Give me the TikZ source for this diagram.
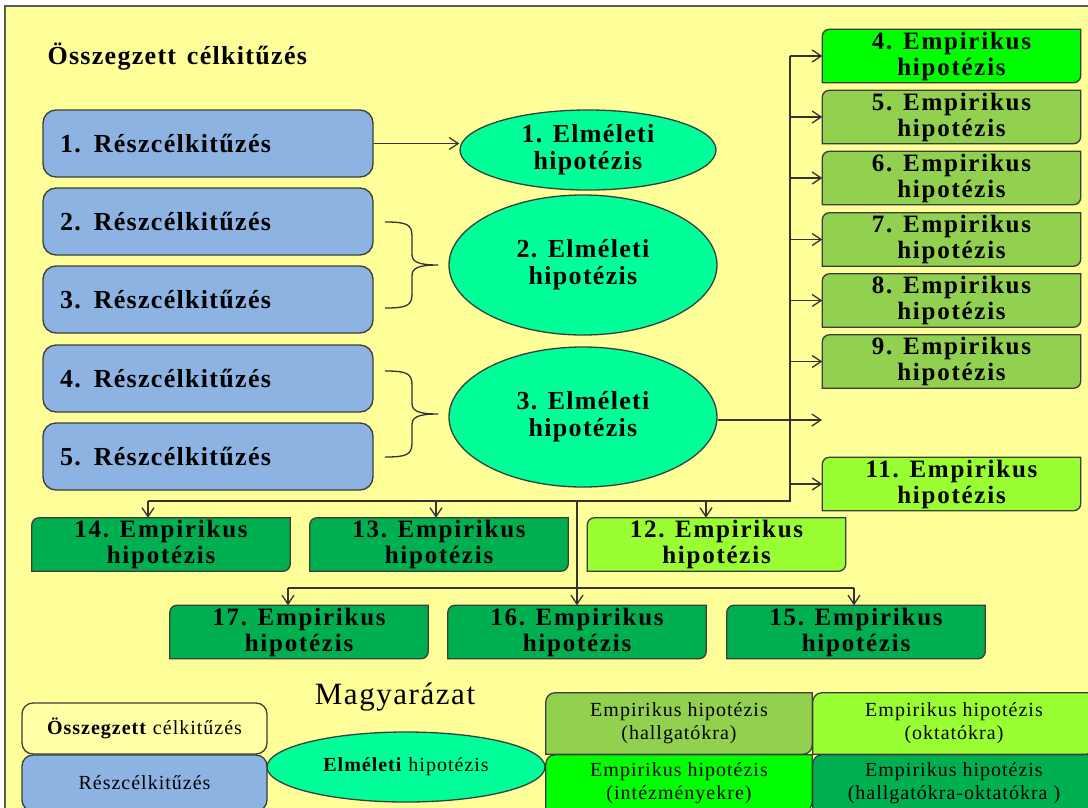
\documentclass[tikz,border=0pt]{standalone}
\usepackage{fontspec}
\setmainfont{Liberation Serif}
\usetikzlibrary{shapes.geometric,arrows.meta,calc}

\definecolor{paper}{HTML}{FFFF99}
\definecolor{framec}{HTML}{5A5A5A}
\definecolor{edgec}{HTML}{3C3C3C}
\definecolor{linec}{HTML}{333333}
\definecolor{bluec}{HTML}{8DB3E2}
\definecolor{ellc}{HTML}{00FF99}
\definecolor{creamc}{HTML}{FFFFA6}
\definecolor{brightg}{HTML}{00FF00}
\definecolor{oliveg}{HTML}{92D050}
\definecolor{limeg}{HTML}{99FF33}
\definecolor{darkg}{HTML}{00B050}

\pgfdeclarelayer{bg}
\pgfsetlayers{bg,main}

% box with rounded top-left and bottom-right corners, drawn behind node #2
\newcommand\diagfill[3][7pt]{%
  \begin{pgfonlayer}{bg}
  \filldraw[draw=edgec, line width=1.3pt, fill=#3]
    ($(#2.north west)+(0pt,-#1)$)
      .. controls ($(#2.north west)+(0pt,-0.45*#1)$) and ($(#2.north west)+(0.45*#1,0pt)$)
      .. ($(#2.north west)+(#1,0pt)$)
    -- (#2.north east)
    -- ($(#2.south east)+(0pt,#1)$)
      .. controls ($(#2.south east)+(0pt,0.45*#1)$) and ($(#2.south east)+(-0.45*#1,0pt)$)
      .. ($(#2.south east)+(-#1,0pt)$)
    -- (#2.south west) -- cycle;
  \end{pgfonlayer}}

\begin{document}
\begin{tikzpicture}[x=1pt,y=-1pt,
  bigbold/.style={font=\bfseries\fontsize{26}{27}\selectfont\addfontfeature{LetterSpace=5}},
  partbox/.style={draw=edgec, fill=bluec, line width=1.3pt, rounded corners=13pt,
    minimum height=67pt, text width=296pt, inner xsep=17pt, align=left, bigbold},
  theory/.style={ellipse, draw=edgec, fill=ellc, line width=1.3pt, inner sep=0pt,
    align=center, bigbold},
  emp/.style={minimum width=258pt, minimum height=53pt, inner sep=0pt, align=center,
    font=\bfseries\fontsize{25}{26}\selectfont\addfontfeature{LetterSpace=7}},
  legtext/.style={font=\fontsize{20}{23}\selectfont\addfontfeature{LetterSpace=5}},
  legbox/.style={minimum width=266pt, minimum height=61pt, inner sep=0pt, align=center, legtext},
  line/.style={draw=linec, line width=1.3pt},
  arr/.style={line, -{Straight Barb[length=9pt,width=12pt,line width=1.3pt]}}]

\useasboundingbox (0,0) rectangle (1088,807);
\clip (0,0) rectangle (1088,807);

% sheet
\begin{pgfonlayer}{bg}
\fill[white] (0,0) rectangle (1088,807);
\filldraw[fill=paper, draw=framec, line width=1.6pt] (5,6) rectangle (1110,830);
\end{pgfonlayer}

% heading
\node[anchor=west, bigbold] (title) at (44,57) {Összegzett\hspace{3pt} célkitűzés};

% sub-goals
\node[partbox] (b1) at (208,143.5) {1. Részcélkitűzés};
\node[partbox] (b2) at (208,221.5) {2. Részcélkitűzés};
\node[partbox] (b3) at (208,299.5) {3. Részcélkitűzés};
\node[partbox] (b4) at (208,378.5) {4. Részcélkitűzés};
\node[partbox] (b5) at (208,456.5) {5. Részcélkitűzés};

% theoretical hypotheses
\node[theory, minimum width=256pt, minimum height=80pt] (e1) at (588,150) {1. Elméleti\\hipotézis};
\node[theory, minimum width=268pt, minimum height=140pt] (e2) at (583,265) {2. Elméleti\\hipotézis};
\node[theory, minimum width=268pt, minimum height=140pt] (e3) at (583,417) {3. Elméleti\\hipotézis};

% empirical hypotheses, right column
\node[emp] (h4)  at (951.5,56)    {4. Empirikus\\hipotézis};
\node[emp] (h5)  at (951.5,117)   {5. Empirikus\\hipotézis};
\node[emp] (h6)  at (951.5,178)   {6. Empirikus\\hipotézis};
\node[emp] (h7)  at (951.5,239.5) {7. Empirikus\\hipotézis};
\node[emp] (h8)  at (951.5,300.5) {8. Empirikus\\hipotézis};
\node[emp] (h9)  at (951.5,361.5) {9. Empirikus\\hipotézis};
\node[emp] (h11) at (951.5,484)   {11. Empirikus\\hipotézis};
\diagfill{h4}{brightg}
\diagfill{h5}{oliveg}
\diagfill{h6}{oliveg}
\diagfill{h7}{oliveg}
\diagfill{h8}{oliveg}
\diagfill{h9}{oliveg}
\diagfill{h11}{limeg}

% empirical hypotheses, lower rows
\node[emp] (h14) at (161,544.5) {14. Empirikus\\hipotézis};
\node[emp] (h13) at (439,544.5) {13. Empirikus\\hipotézis};
\node[emp] (h12) at (716.5,544.5) {12. Empirikus\\hipotézis};
\node[emp] (h17) at (299,632) {17. Empirikus\\hipotézis};
\node[emp] (h16) at (577,632) {16. Empirikus\\hipotézis};
\node[emp] (h15) at (856,632) {15. Empirikus\\hipotézis};
\diagfill{h14}{darkg}
\diagfill{h13}{darkg}
\diagfill{h12}{limeg}
\diagfill{h17}{darkg}
\diagfill{h16}{darkg}
\diagfill{h15}{darkg}

% goal 1 -> hypothesis 1
\draw[arr] (b1.east) -- (b1.east -| e1.west);

% braces joining goals 2-3 and 4-5
\draw[line] (385,222) .. controls (406,222) and (412,224) .. (412,236)
  -- (412,254) .. controls (412,261) and (416,265) .. (438,265)
  .. controls (416,265) and (412,269) .. (412,276)
  -- (412,294) .. controls (412,306) and (406,308) .. (385,308);
\draw[line] (385,371) .. controls (406,371) and (412,373) .. (412,385)
  -- (412,403) .. controls (412,410) and (416,414) .. (438,414)
  .. controls (416,414) and (412,418) .. (412,425)
  -- (412,443) .. controls (412,455) and (406,457) .. (385,457);

% distribution lines
\coordinate (j1) at (790,501);
\coordinate (n10) at (822,420);
\coordinate (a14) at (148,501);
\coordinate (a13) at (436,501);
\coordinate (a12) at (706,501);
\coordinate (j2) at (577,501);
\coordinate (j3) at (577,588);
\coordinate (a17) at (288,588);
\coordinate (a15) at (854,588);

\draw[line] (h4.west -| j1) -- (j1) -- (a14);
\foreach \n in {h4,h5,h6,h7,h8,h9,h11}
  \draw[arr] (\n.west -| j1) -- (\n.west);
\draw[arr] (e3.east |- n10) -- (n10);
\draw[arr] (a14) -- (a14 |- h14.north);
\draw[arr] (a13) -- (a13 |- h13.north);
\draw[arr] (a12) -- (a12 |- h12.north);
\draw[line] (j2) -- (j3);
\draw[line] (a17) -- (a15);
\draw[arr] (a17) -- (a17 |- h17.north);
\draw[arr] (j3) -- (h16.north);
\draw[arr] (a15) -- (a15 |- h15.north);

% legend
\node[font=\fontsize{31}{33}\selectfont\addfontfeature{LetterSpace=5}] (key) at (395,697) {Magyarázat};
\node[draw=edgec, fill=creamc, line width=1.3pt, rounded corners=11pt,
  minimum width=245pt, minimum height=51pt, inner sep=0pt, legtext] (k1) at (144.5,728.5)
  {\textbf{Összegzett} célkitűzés};
\node[draw=edgec, fill=bluec, line width=1.3pt, rounded corners=11pt,
  minimum width=245pt, minimum height=56pt, inner sep=0pt, legtext] (k2) at (144.5,783)
  {Részcélkitűzés};
\node[theory, minimum width=278pt, minimum height=70pt, legtext] (k3) at (406,767)
  {\textbf{Elméleti} hipotézis};
\node[legbox] (k4) at (679,723.5) {Empirikus hipotézis\\(hallgatókra)};
\node[legbox, minimum width=282pt] (k5) at (954,723.5) {Empirikus hipotézis\\(oktatókra)};
\node[legbox, minimum height=56pt] (k6) at (679,783) {Empirikus hipotézis\\(intézményekre)};
\node[legbox, minimum width=282pt, minimum height=56pt] (k7) at (954,783) {Empirikus hipotézis\\(hallgatókra-oktatókra )};
\diagfill[9pt]{k4}{oliveg}
\diagfill[9pt]{k5}{limeg}
\diagfill[9pt]{k6}{brightg}
\diagfill[9pt]{k7}{darkg}

\end{tikzpicture}
\end{document}
